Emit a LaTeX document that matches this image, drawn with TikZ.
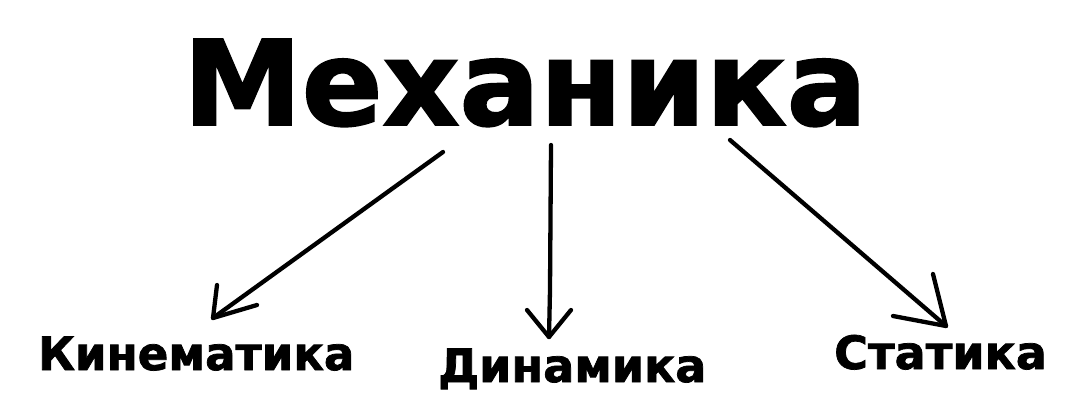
\documentclass[tikz,border=0pt]{standalone}
\usepackage{fontspec}
\setmainfont{DejaVu Sans}
\newfontfamily\heavyfont[FakeBold=1.6]{DejaVu Sans Bold}
\begin{document}
\begin{tikzpicture}[x=1pt,y=-1pt,
  title/.style={inner sep=0pt,anchor=base west,font=\heavyfont\fontsize{118}{120}\selectfont},
  lbl/.style={inner sep=0pt,anchor=base west,font=\heavyfont\fontsize{46}{50}\selectfont},
  pen/.style={line width=4.3pt,line cap=round,line join=round}]
\useasboundingbox[fill=white] (0,0) rectangle (1077,413);
\node[title,xscale=1.01] (mech) at (183,125) {Механика};
\node[lbl,xscale=0.98] (kin) at (38,370) {Кинематика};
\node[lbl] (din) at (438,382) {Динамика};
\node[lbl] (stat) at (834,369) {Статика};
% arrow 1
\coordinate (s1) at (443,152);
\coordinate (t1) at (213,318);
\coordinate (a1) at (217,285);
\coordinate (b1) at (257,305);
\draw[pen] (s1) -- (t1);
\draw[pen] (a1) -- (t1) -- (b1);
% arrow 2
\coordinate (s2) at (551,145);
\coordinate (m2) at (550,290);
\coordinate (t2) at (549,337);
\coordinate (a2) at (527,310);
\coordinate (b2) at (571,310);
\draw[pen] (s2) -- (m2) -- (t2);
\draw[pen] (a2) -- (t2) -- (b2);
% arrow 3
\coordinate (s3) at (730,140);
\coordinate (t3) at (946,326);
\coordinate (a3) at (893,316);
\coordinate (b3) at (933,274);
\draw[pen] (s3) -- (t3);
\draw[pen] (a3) -- (t3) -- (b3);
\end{tikzpicture}
\end{document}
